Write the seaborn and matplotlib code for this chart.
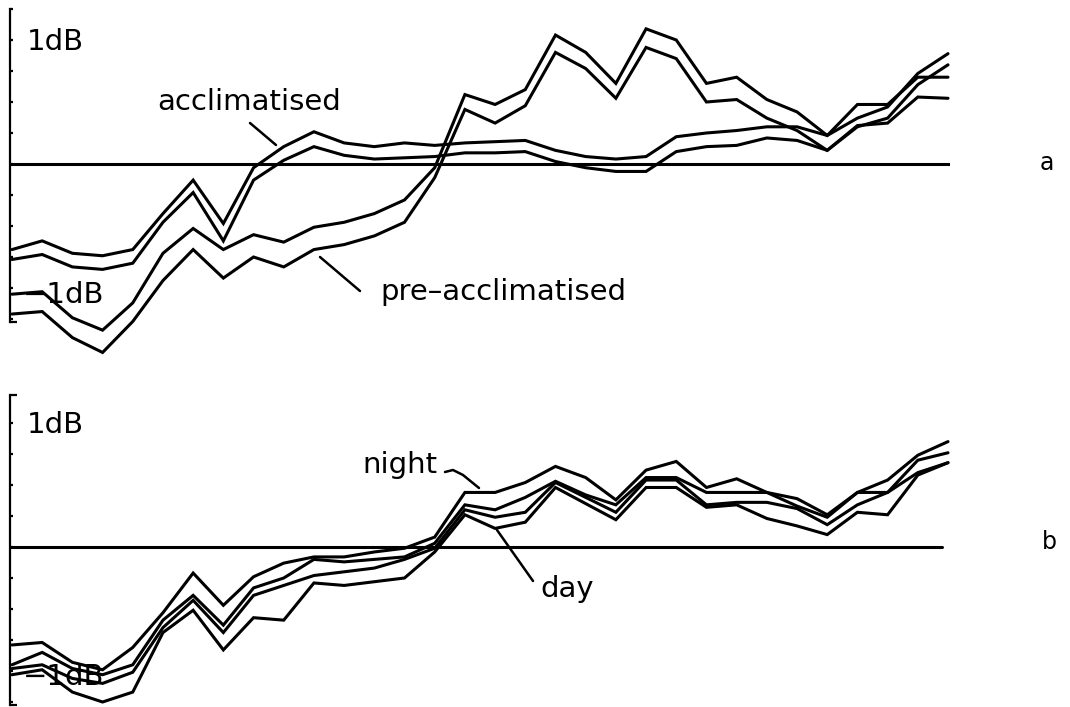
import matplotlib
matplotlib.use("Agg")
import matplotlib.pyplot as plt
from matplotlib.lines import Line2D
import numpy as np
import pandas as pd
import seaborn as sns

# ---- data: level difference (dB) per frequency band, 32 bands ----
bands = list(range(32))

# panel a: acclimatised pair and pre-acclimatised pair
acclim_hi = [-0.69, -0.62, -0.72, -0.74, -0.69, -0.40, -0.13, -0.48, -0.03, 0.14,
             0.26, 0.17, 0.14, 0.17, 0.15, 0.17, 0.18, 0.19, 0.11, 0.06,
             0.04, 0.06, 0.22, 0.25, 0.27, 0.30, 0.30, 0.23, 0.48, 0.48,
             0.70, 0.70]
acclim_lo = [-0.77, -0.73, -0.83, -0.85, -0.80, -0.47, -0.23, -0.62, -0.13, 0.03,
             0.14, 0.07, 0.04, 0.05, 0.06, 0.09, 0.09, 0.10, 0.02, -0.03,
             -0.06, -0.06, 0.10, 0.14, 0.15, 0.21, 0.19, 0.11, 0.31, 0.33,
             0.54, 0.53]
pre_hi = [-1.05, -1.03, -1.24, -1.34, -1.12, -0.72, -0.52, -0.69, -0.57, -0.63,
          -0.51, -0.47, -0.40, -0.29, -0.03, 0.56, 0.48, 0.60, 1.04, 0.90,
          0.65, 1.09, 1.00, 0.65, 0.70, 0.52, 0.42, 0.23, 0.37, 0.46,
          0.73, 0.89]
pre_lo = [-1.21, -1.19, -1.40, -1.52, -1.27, -0.94, -0.69, -0.92, -0.75, -0.83,
          -0.69, -0.65, -0.58, -0.47, -0.11, 0.44, 0.33, 0.47, 0.90, 0.77,
          0.53, 0.94, 0.85, 0.50, 0.52, 0.37, 0.27, 0.11, 0.30, 0.37,
          0.64, 0.80]

# panel b: night and day traces
night_hi = [-0.79, -0.77, -0.93, -0.99, -0.81, -0.53, -0.21, -0.47, -0.24, -0.13,
            -0.08, -0.08, -0.04, -0.01, 0.08, 0.44, 0.44, 0.52, 0.65, 0.56,
            0.38, 0.62, 0.69, 0.48, 0.55, 0.44, 0.39, 0.26, 0.44, 0.54,
            0.74, 0.85]
night_lo = [-0.95, -0.85, -0.98, -1.03, -0.95, -0.59, -0.39, -0.63, -0.33, -0.25,
            -0.10, -0.12, -0.10, -0.08, 0.03, 0.34, 0.30, 0.40, 0.53, 0.42,
            0.34, 0.56, 0.56, 0.44, 0.44, 0.44, 0.33, 0.24, 0.44, 0.44,
            0.70, 0.76]
day_hi = [-0.98, -0.95, -1.06, -1.10, -1.01, -0.65, -0.43, -0.69, -0.39, -0.31,
          -0.23, -0.20, -0.17, -0.10, -0.01, 0.30, 0.24, 0.28, 0.52, 0.40,
          0.28, 0.54, 0.54, 0.34, 0.36, 0.36, 0.31, 0.18, 0.34, 0.44,
          0.60, 0.68]
day_lo = [-1.03, -0.99, -1.17, -1.25, -1.17, -0.69, -0.51, -0.83, -0.57, -0.59,
          -0.29, -0.31, -0.28, -0.25, -0.04, 0.26, 0.15, 0.20, 0.48, 0.35,
          0.22, 0.48, 0.48, 0.32, 0.34, 0.23, 0.17, 0.10, 0.28, 0.26,
          0.58, 0.68]


def long_frame(traces):
    rows = []
    for name, vals in traces.items():
        for b, v in zip(bands, vals):
            rows.append({"band": b, "dB": v, "trace": name})
    return pd.DataFrame(rows)


df_a = long_frame({"acclimatised (upper)": acclim_hi, "acclimatised (lower)": acclim_lo,
                   "pre-acclimatised (upper)": pre_hi, "pre-acclimatised (lower)": pre_lo})
df_b = long_frame({"night (upper)": night_hi, "night (lower)": night_lo,
                   "day (upper)": day_hi, "day (lower)": day_lo})

# ---- layout in pixel units ----
W, H = 1070, 707
PX_PER_DB = 124.0


def fx(x):
    return x / W


def fy(y):
    return 1 - y / H


sns.set_theme(style="white")
plt.rcParams["font.family"] = ["DejaVu Sans"]

fig = plt.figure(figsize=(W / 100, H / 100), dpi=100)
fig.patch.set_facecolor("white")

LW = 2.2


def panel(df, top_px, bottom_px, zero_px, spine_top_px, spine_bot_px, zero_end):
    ax = fig.add_axes([fx(10), fy(bottom_px), fx(950) - fx(10), (bottom_px - top_px) / H])
    ax.set_facecolor("none")
    sns.lineplot(data=df, x="band", y="dB", units="trace", estimator=None,
                 color="black", linewidth=LW, legend=False, ax=ax,
                 solid_joinstyle="miter")
    ax.set_xlim(-0.066, 31.066)
    ax.set_ylim((zero_px - bottom_px) / PX_PER_DB, (zero_px - top_px) / PX_PER_DB)
    ax.axhline(0, xmin=0, xmax=zero_end, color="black", linewidth=LW)

    for s in ("top", "right", "bottom"):
        ax.spines[s].set_visible(False)
    top_db = (zero_px - spine_top_px) / PX_PER_DB
    bot_db = (zero_px - spine_bot_px) / PX_PER_DB
    ax.spines["left"].set_bounds(bot_db, top_db)
    ax.spines["left"].set_color("black")
    ax.spines["left"].set_linewidth(1.6)

    ticks = [t for t in np.arange(-1.25, 1.26, 0.25) if bot_db - 1e-6 <= t <= top_db + 1e-6]
    ax.set_yticks(ticks)
    ax.set_yticks([bot_db, top_db], minor=True)
    ax.tick_params(axis="y", which="major", direction="in", length=2.5, width=1.6,
                   left=True, labelleft=False, color="black")
    ax.tick_params(axis="y", which="minor", direction="in", length=5, width=1.6,
                   left=True, labelleft=False, color="black")
    ax.set_xticks([])
    ax.set_xlabel("")
    ax.set_ylabel("")
    return ax


ax_a = panel(df_a, 0, 362, 164, 9, 322, 1.0)
ax_b = panel(df_b, 376, 707, 547, 395, 705, 0.991)

FS = 21


def label(x, y, s, size=FS):
    fig.text(fx(x), fy(y), s, fontsize=size, ha="left", va="baseline", color="black")


def leader(xs, ys):
    fig.add_artist(Line2D([fx(x) for x in xs], [fy(y) for y in ys],
                          transform=fig.transFigure, color="black", linewidth=1.8))


# panel a annotations
label(27, 50, "1dB")
label(23, 303, "\u22121dB")
label(157, 110, "acclimatised")
leader([250, 276], [123, 145])
label(380, 300, "pre\u2013acclimatised")
leader([320, 360], [257, 291])
label(1040, 170, "a", size=17)

# panel b annotations
label(27, 433, "1dB")
label(23, 685, "\u22121dB")
label(362, 473, "night")
leader([445, 453, 463, 479], [472, 470, 475, 488])
label(540, 597, "day")
leader([497, 533], [530, 581])
label(1042, 549, "b", size=17)

fig.savefig("out.png", dpi=100, facecolor="white")
